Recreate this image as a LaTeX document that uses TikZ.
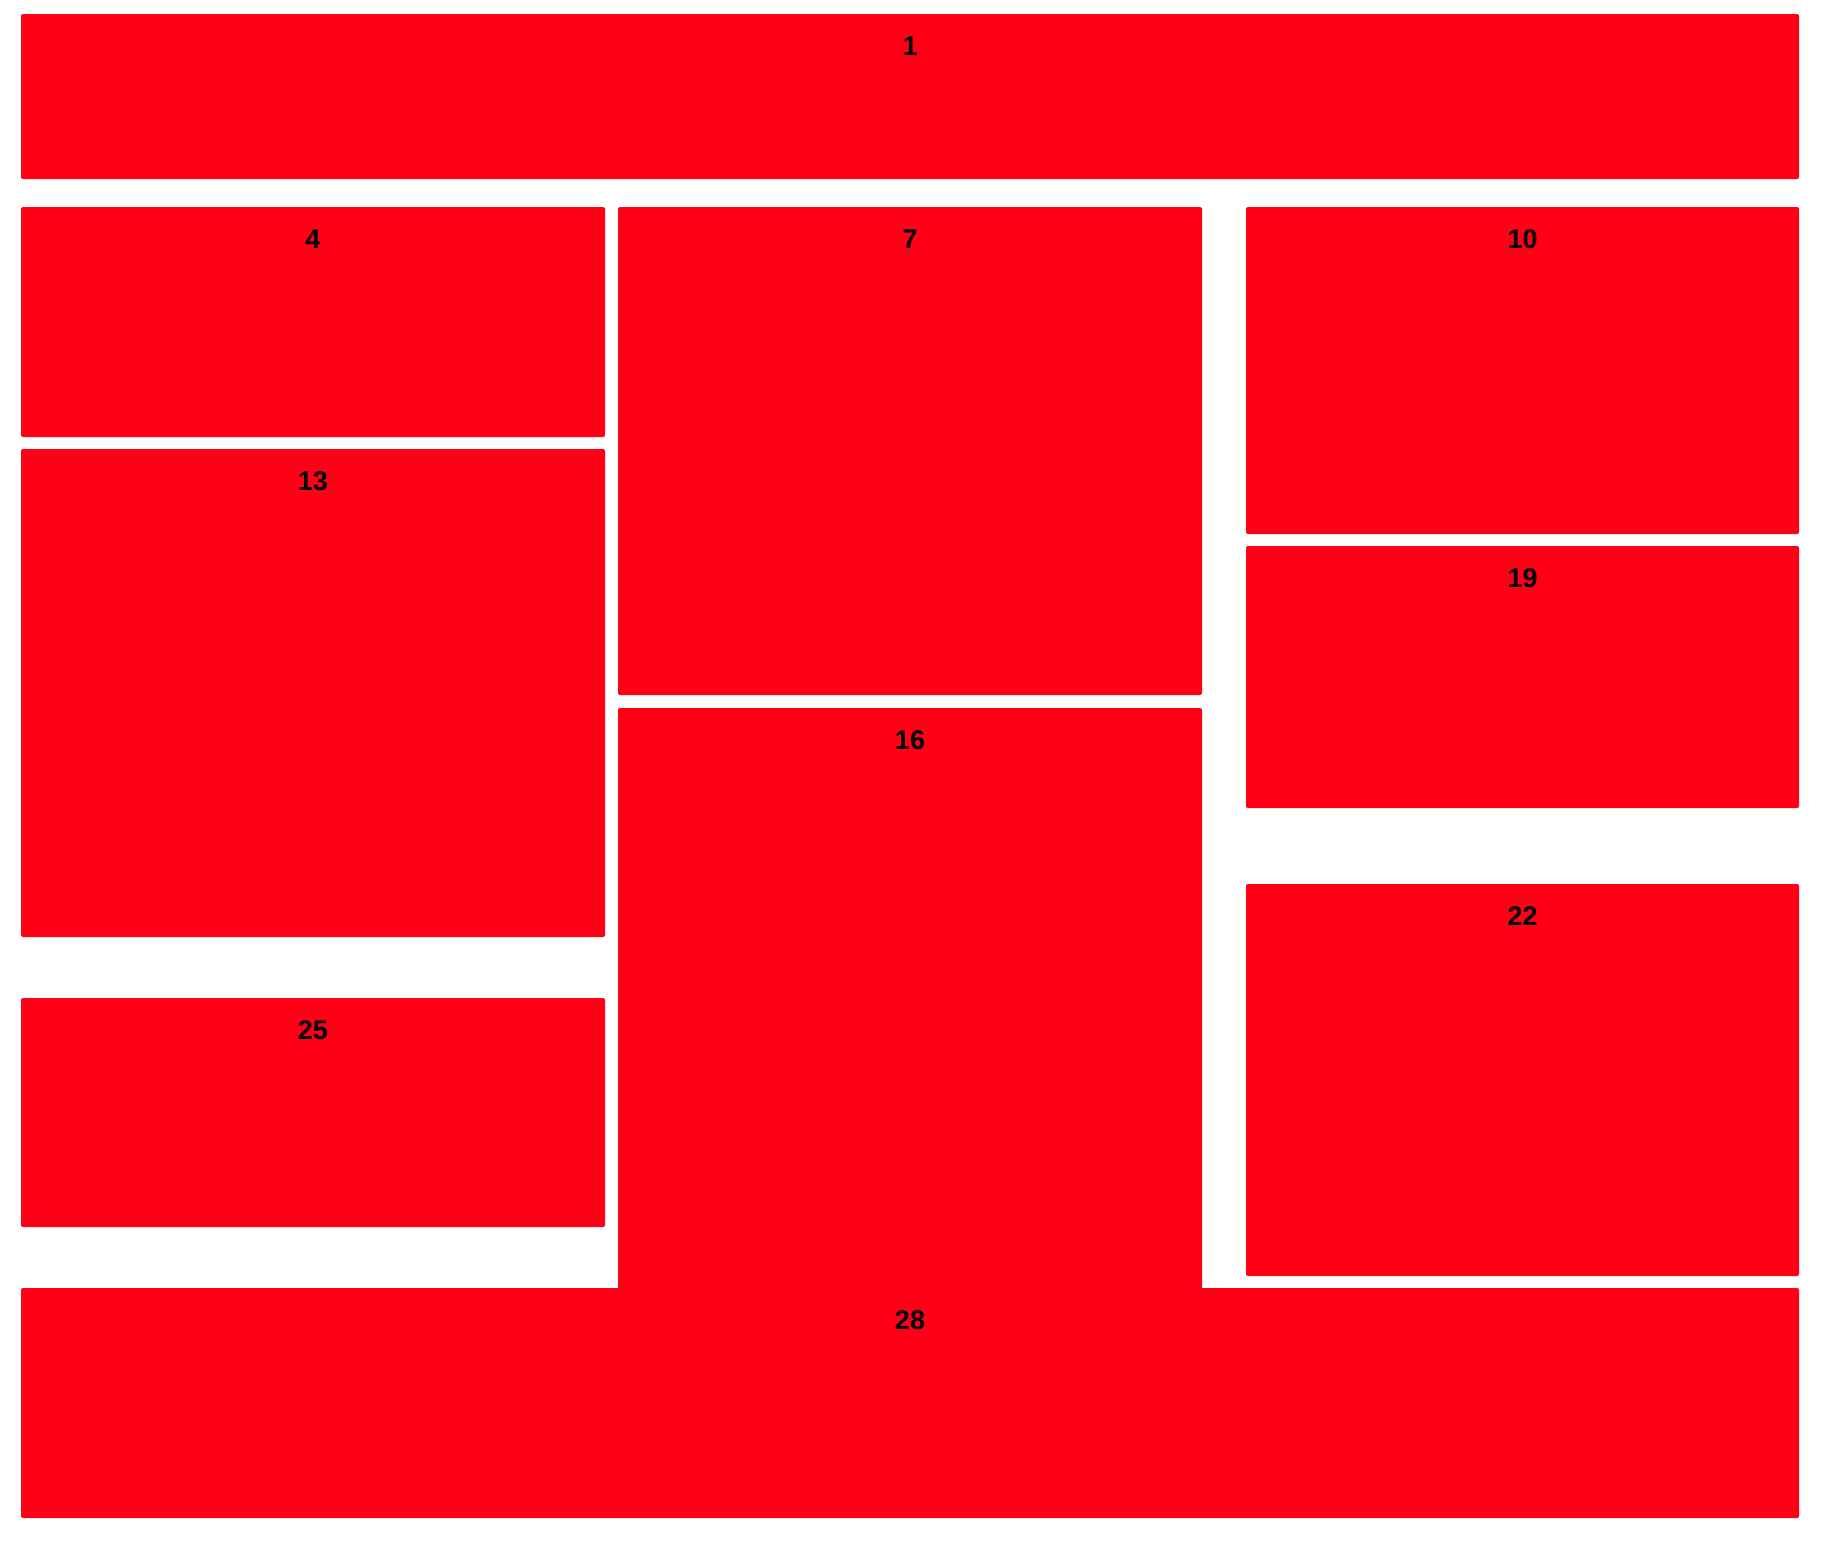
\documentclass[tikz,border=0pt]{standalone}
\usepackage{fontspec}
\setmainfont{Liberation Sans}
\usetikzlibrary{fit}
\definecolor{boxred}{RGB}{255,0,22}
\tikzset{
  panel/.style={fill=boxred, draw=none, rounded corners=1pt, inner sep=0pt},
  plabel/.style={font=\fontsize{13.5}{16}\selectfont\bfseries, text=black, inner sep=0pt, anchor=center}
}
\begin{document}
\begin{tikzpicture}[x=0.5pt,y=-0.5pt]
\useasboundingbox[fill=white] (0,0) rectangle (1826,1558);
% panels
\node[panel, fit={(21,14) (1799,179)}] (b1) {};
\node[panel, fit={(21,207) (605,437)}] (b4) {};
\node[panel, fit={(618,207) (1202,695)}] (b7) {};
\node[panel, fit={(1246,207) (1799,534)}] (b10) {};
\node[panel, fit={(21,449) (605,937)}] (b13) {};
\node[panel, fit={(618,708) (1202,1292)}] (b16) {};
\node[panel, fit={(1246,546) (1799,808)}] (b19) {};
\node[panel, fit={(1246,884) (1799,1276)}] (b22) {};
\node[panel, fit={(21,998) (605,1227)}] (b25) {};
\node[panel, fit={(21,1288) (1799,1518)}] (b28) {};
% labels
\node[plabel] (l1) at ([yshift=-16.2pt]b1.north) {1};
\node[plabel] (l4) at ([yshift=-16.2pt]b4.north) {4};
\node[plabel] (l7) at ([yshift=-16.2pt]b7.north) {7};
\node[plabel] (l10) at ([yshift=-16.2pt]b10.north) {10};
\node[plabel] (l13) at ([yshift=-16.2pt]b13.north) {13};
\node[plabel] (l16) at ([yshift=-16.2pt]b16.north) {16};
\node[plabel] (l19) at ([yshift=-16.2pt]b19.north) {19};
\node[plabel] (l22) at ([yshift=-16.2pt]b22.north) {22};
\node[plabel] (l25) at ([yshift=-16.2pt]b25.north) {25};
\node[plabel] (l28) at ([yshift=-16.2pt]b28.north) {28};
\end{tikzpicture}
\end{document}
